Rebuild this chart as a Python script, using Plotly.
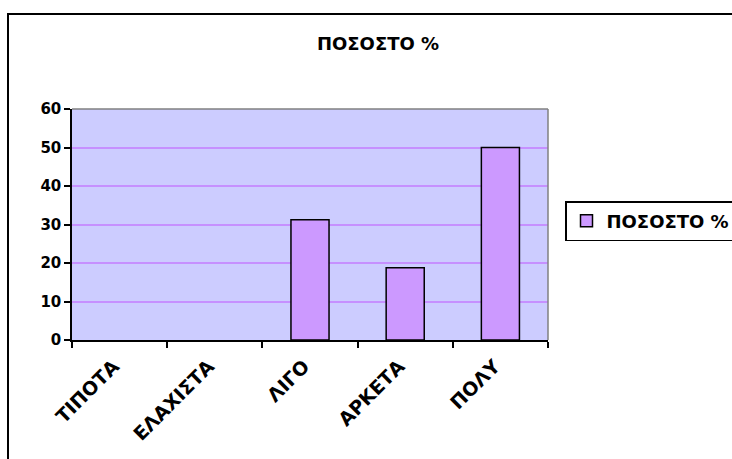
import plotly.graph_objects as go

categories = ["ΤΙΠΟΤΑ", "ΕΛΑΧΙΣΤΑ", "ΛΙΓΟ", "ΑΡΚΕΤΑ", "ΠΟΛΥ"]
values = [0, 0, 31.25, 18.75, 50]
series_name = "ΠΟΣΟΣΤΟ %"
chart_title = "ΠΟΣΟΣΤΟ %"
y_ticks = [0, 10, 20, 30, 40, 50, 60]

W, H = 732, 459
L, R, T, B = 72, 184, 109, 119
pw, ph = W - L - R, H - T - B

def px(x):
    return (x - L) / pw

def py(y):
    return (H - B - y) / ph

fig = go.Figure()
fig.add_trace(go.Bar(
    x=categories, y=[v if v > 0 else None for v in values], name=series_name, width=0.4,
    marker=dict(color="#CC99FF", line=dict(color="black", width=1.5)),
    showlegend=True,
))

fig.update_layout(
    width=W, height=H,
    margin=dict(l=L, r=R, t=T, b=B, autoexpand=False),
    paper_bgcolor="white",
    plot_bgcolor="#CCCCFF",
    title=dict(text=chart_title, x=378 / W, xanchor="center", y=1 - 44 / H, yanchor="middle",
               font=dict(family="DejaVu Sans", size=18, color="black", weight="bold")),
    showlegend=True,
    legend=dict(x=px(565), xanchor="left", y=py(221), yanchor="middle",
                bordercolor="black", borderwidth=1.5, bgcolor="white", itemwidth=30,
                font=dict(family="DejaVu Sans", size=18, color="black", weight="bold")),
    xaxis=dict(
        type="category", showline=True, linecolor="black", linewidth=1.5,
        ticks="outside", tickson="boundaries", ticklen=6, tickcolor="black", tickwidth=1.5,
        tickangle=-45, showgrid=False, ticklabelstandoff=6, ticklabelshift=-6,
        tickfont=dict(family="DejaVu Sans", size=19, color="black", weight="bold"),
    ),
    yaxis=dict(
        range=[0, 60], tickvals=y_ticks, showline=True, linecolor="black", linewidth=1.5,
        ticks="outside", ticklen=6, tickcolor="black", tickwidth=1.5,
        showgrid=True, gridcolor="#C690FF", gridwidth=1.5, zeroline=False,
        tickfont=dict(family="DejaVu Sans", size=15, color="black", weight="bold"),
    ),
    shapes=[
        dict(type="line", xref="paper", yref="paper", x0=0, x1=1, y0=1, y1=1,
             line=dict(color="#808080", width=1.5), layer="above"),
        dict(type="line", xref="paper", yref="paper", x0=1, x1=1, y0=0, y1=1,
             line=dict(color="#808080", width=1.5), layer="above"),
        dict(type="rect", xref="paper", yref="paper",
             x0=px(8), x1=px(740), y0=py(470), y1=py(14),
             line=dict(color="black", width=2), layer="above"),
    ],
)

fig.write_html("out.html", config={"displayModeBar": False},
               post_script="document.body.style.margin='0';")
